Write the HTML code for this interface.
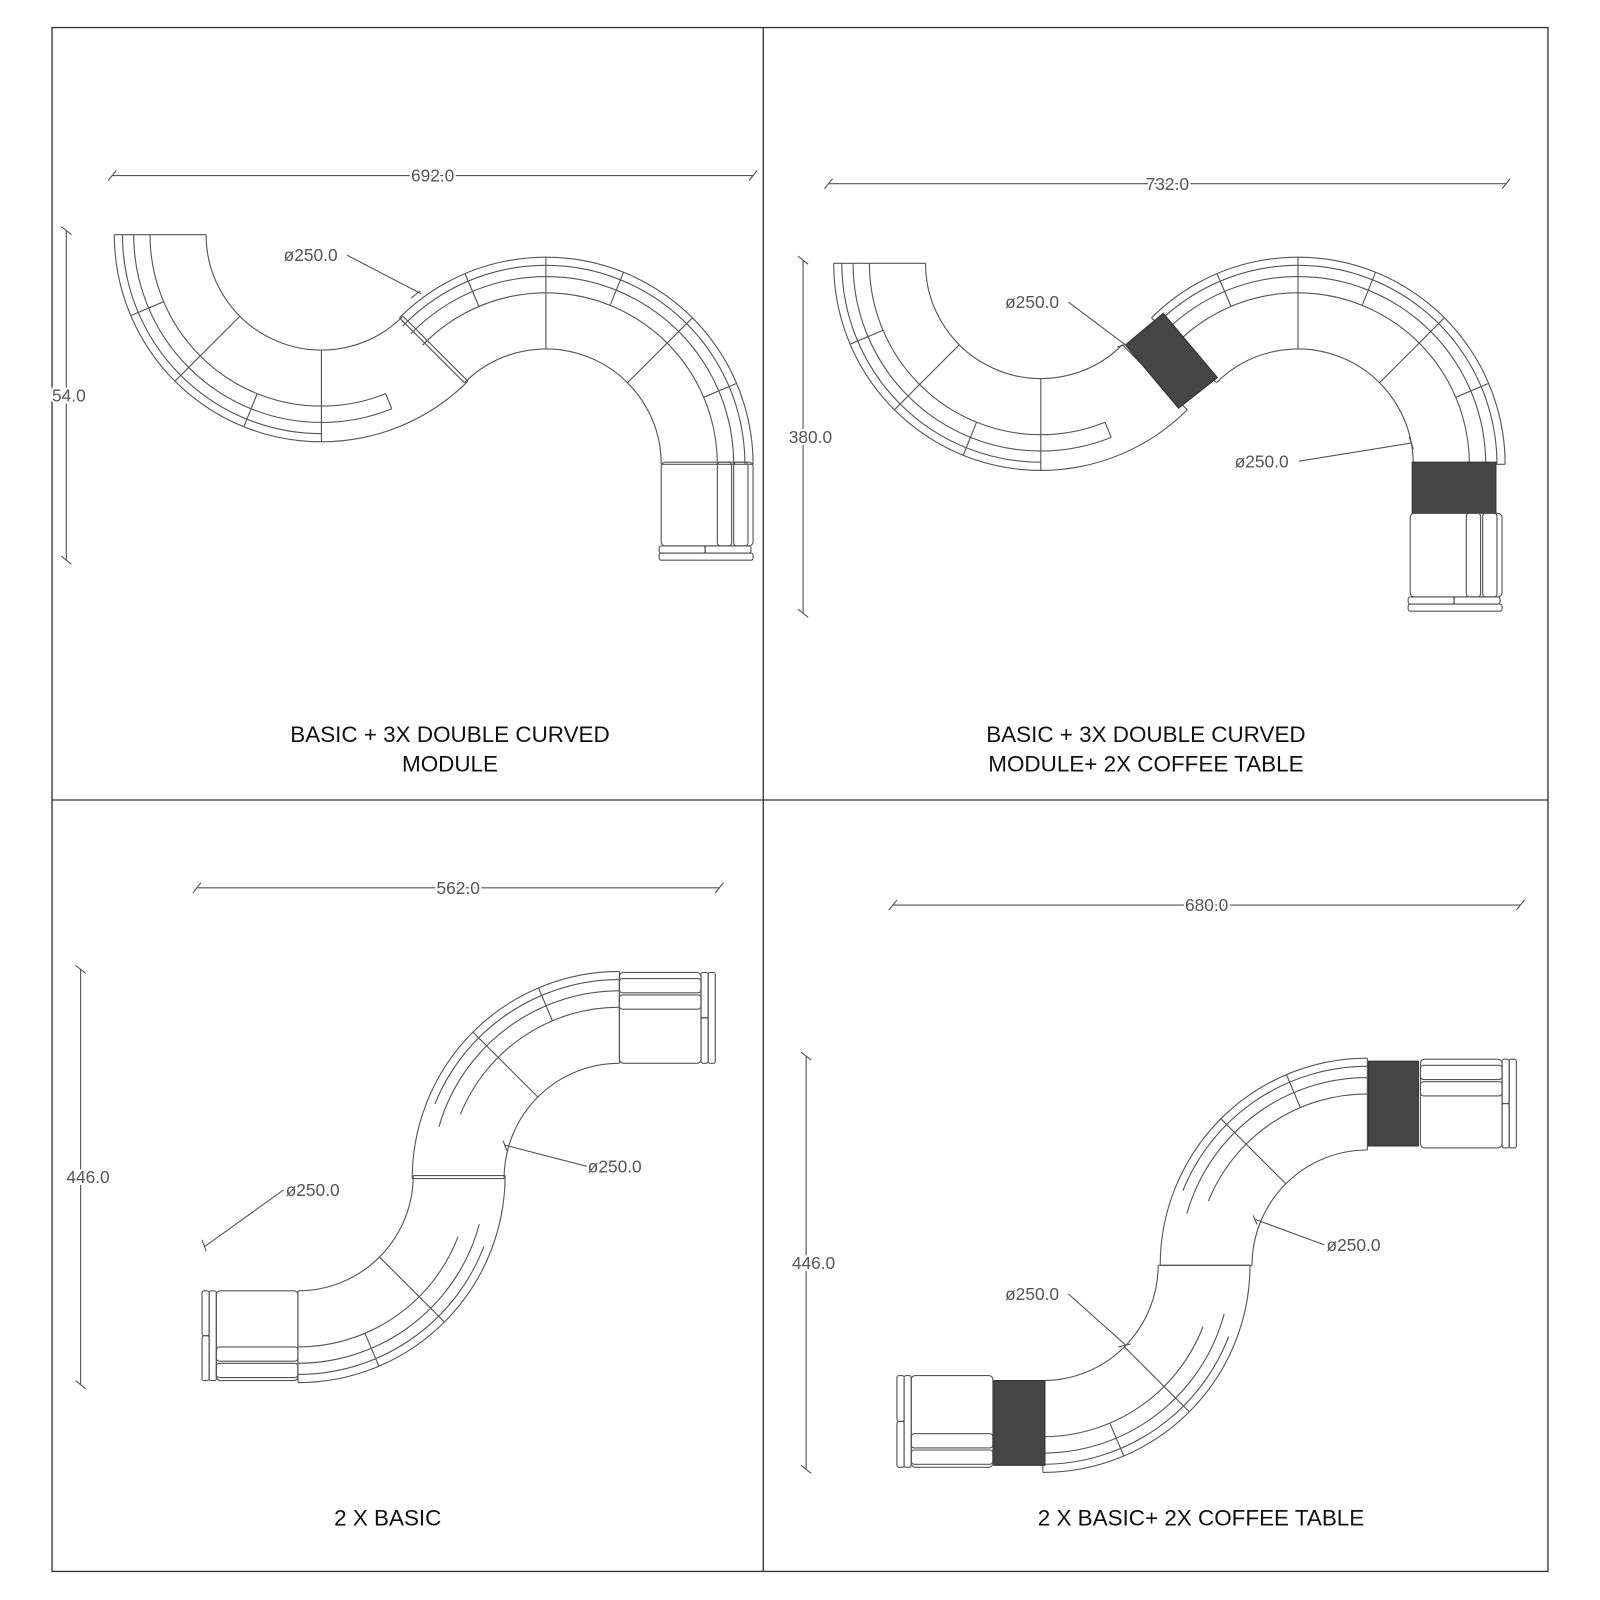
<!DOCTYPE html>
<html><head><meta charset="utf-8"><style>
html,body{margin:0;padding:0;background:#fff}
svg{display:block}
text{font-family:"Liberation Sans",sans-serif;}
</style></head><body>
<svg id="s" width="1600" height="1600" viewBox="0 0 1568 1568" xmlns="http://www.w3.org/2000/svg">
<rect x="0" y="0" width="1568" height="1568" fill="#fff"/>
<g fill="none" stroke="#333" stroke-width="1.3">
<rect x="51" y="27" width="1466" height="1513"/>
<line x1="748" y1="27" x2="748" y2="1540"/>
<line x1="51" y1="784" x2="1517" y2="784"/>
</g>
<g id="g" fill="none" stroke="#555" stroke-width="1.1"></g>
<g font-size="22" fill="#111" text-anchor="middle">
<text x="441" y="727">BASIC + 3X DOUBLE CURVED</text>
<text x="441" y="756">MODULE</text>
<text x="1123" y="727">BASIC + 3X DOUBLE CURVED</text>
<text x="1123" y="756">MODULE+ 2X COFFEE TABLE</text>
<text x="380" y="1495">2 X BASIC</text>
<text x="1177" y="1495">2 X BASIC+ 2X COFFEE TABLE</text>
</g>
<g font-size="17" fill="#555" id="t"></g>
</svg>
<script>
var g=document.getElementById('g'),T=document.getElementById('t'),out='',tx='';
function P(a,r,c){var t=a*Math.PI/180;return [c[0]+r*Math.cos(t),c[1]+r*Math.sin(t)];}
function arc(c,r,a0,a1){var p=P(a0,r,c),q=P(a1,r,c);out+='<path d="M'+p[0]+' '+p[1]+' A'+r+' '+r+' 0 0 1 '+q[0]+' '+q[1]+'"/>';}
function rad(c,a,r1,r2){var p=P(a,r1,c),q=P(a,r2,c);out+='<line x1="'+p[0]+'" y1="'+p[1]+'" x2="'+q[0]+'" y2="'+q[1]+'"/>';}
function L(x1,y1,x2,y2){out+='<line x1="'+x1+'" y1="'+y1+'" x2="'+x2+'" y2="'+y2+'"/>';}
function R(x,y,w,h,rx){out+='<rect x="'+x+'" y="'+y+'" width="'+w+'" height="'+h+'" rx="'+(rx||3)+'"/>';}
function piece(c,a0,a1,divs,b0,b1,s0,s1,ticks){
 arc(c,203,a0,a1);arc(c,113,a0,a1);rad(c,a0,113,203);rad(c,a1,113,203);
 divs.forEach(function(a){rad(c,a,113,203);});
 if(b0!=null){arc(c,195,b0,b1);arc(c,184,b0,b1);arc(c,168,b0,b1);}
 if(s0!=null){arc(c,184,s0,s1);arc(c,168,s0,s1);var e=(s0<b0)?s0:s1;rad(c,e,168,184);}
 (ticks||[]).forEach(function(a){rad(c,a,168,203);});
}
function tbl(pts){out+='<polygon points="'+pts+'" fill="#454545" stroke="#333"/>';}
function dimH(x1,x2,y,lab){L(x1,y,x2,y);L(x1-4,y+5,x1+4,y-5);L(x2-4,y+5,x2+4,y-5);tx+='<text x="'+((x1+x2)/2)+'" y="'+(y+6)+'" text-anchor="middle" style="paint-order:stroke" stroke="#fff" stroke-width="4">'+lab+'</text>';}
function dimV(x,y1,y2,lab){L(x,y1,x,y2);L(x-5,y1-4,x+5,y1+4);L(x-5,y2-4,x+5,y2+4);tx+='<text x="'+(x-14)+'" y="'+((y1+y2)/2+6)+'" style="paint-order:stroke" stroke="#fff" stroke-width="4">'+lab+'</text>';}
function lead(x,y,lab,x2,y2,anchor){tx+='<text x="'+x+'" y="'+y+'" text-anchor="'+(anchor||'start')+'">'+lab+'</text>';var lx=anchor=='end'?x:(x+62);if(anchor=='endl')lx=x;L(lx,y-6,x2,y2);L(x2-5,y2+3,x2+5,y2-3);}
function endV(x,y,w,h,armRight){ // vertical end module
 R(x,y,w,h-14,4);var ax=armRight?x+w-35:x+8;R(ax,y,14,h-14,3);R(ax+16,y,14,h-14,3);
 R(x-2,y+h-14,w/2,7,2);R(x+w/2-2,y+h-14,w/2,7,2);R(x-2,y+h-7,w+2,7,2);}
function endH(x,y,w,h,armLeft){ // horizontal end module
 R(x,y,w,h,4);var ay=armLeft?y+h-33:y+6;R(x,ay,w,14,3);R(x,ay+16,w,14,3);
 var ex=armLeft?x-14:x+w;R(ex,y,7,h/2,2);R(ex,y+h/2,7,h/2,2);R(ex+7,y,7,h,2);}
// Panel 1
piece([315,230],45,180,[90,135],90,180,68,90,[112,157]);
piece([535,455],225,360,[270,315],224,360,null,null,[247,292,337]);
endV(648,453,90,96,true);
dimH(110,738,172,'692.0');dimV(65,226,549,'54.0');
tx+='<text x="278" y="256">ø250.0</text>';L(340,250,413,288);L(403,292,412,285);
// Panel 2
piece([1020,258],45,180,[90,135],90,180,68,90,[112,157]);
piece([1272,455],225,360,[270,315],224,360,null,null,[247,292,337]);
tbl('1103,338,1140,307,1193,370,1155,400');
tbl('1384,453,1466,453,1466,503,1384,503');
endV(1382,503,90,96,true);
dimH(812,1476,180,'732.0');dimV(787,255,601,'380.0');
tx+='<text x="985" y="302">ø250.0</text>';L(1047,296,1103,338);L(1095,340,1105,337);
tx+='<text x="1210" y="458">ø250.0</text>';L(1273,452,1384,434);L(1381,428,1385,440);
// Panel 3
piece([607,1155],180,270,[225],202,270,null,null,[247]);
piece([292,1152],0,90,[45],21,90,null,null,[67]);
arc([607,1155],184,196,202);arc([292,1152],184,15,21);
endH(607,953,80,89,false);
endH(212,1265,80,88,true);
dimH(193,705,870,'562.0');dimV(79,950,1357,'446.0');
tx+='<text x="576" y="1149">ø250.0</text>';L(575,1143,494,1122);L(493,1118,497,1128);
tx+='<text x="280" y="1172">ø250.0</text>';L(278,1166,200,1222);L(198,1215,202,1226);
// Panel 4
piece([1340,1240],180,270,[225],202,270,null,null,[247]);
piece([1022,1240],0,90,[45],21,90,null,null,[67]);
arc([1340,1240],184,196,202);arc([1022,1240],184,15,21);
tbl('1341,1040,1390,1040,1390,1123,1341,1123');
endH(1392,1038,80,87,false);
tbl('974,1353,1024,1353,1024,1436,974,1436');
endH(893,1348,80,90,true);
dimH(875,1490,887,'680.0');dimV(790,1035,1440,'446.0');
tx+='<text x="1300" y="1226">ø250.0</text>';L(1298,1220,1230,1195);L(1228,1191,1232,1200);
tx+='<text x="985" y="1274">ø250.0</text>';L(1047,1268,1103,1318);L(1096,1320,1108,1317);
g.innerHTML=out;T.innerHTML=tx;
</script>
</body></html>
